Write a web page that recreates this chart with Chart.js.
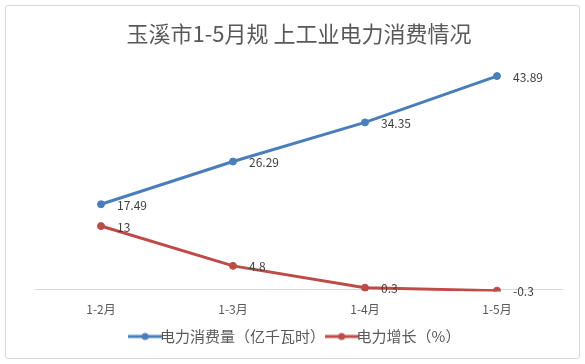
<!DOCTYPE html>
<html>
<head>
<meta charset="utf-8">
<script src="https://cdn.jsdelivr.net/npm/chart.js@4"></script>
<style>
body{margin:0;background:#fff;}
#box{position:absolute;left:5px;top:5px;width:573px;height:352px;border:1px solid #d9d9d9;border-radius:3px;}
#wrap{position:absolute;left:0;top:0;width:585px;height:364px;}
</style>
</head>
<body>
<div id="box"></div>
<div id="wrap"><canvas id="c" width="585" height="364"></canvas></div>
<script>
// data
const months = ["1-2月","1-3月","1-4月","1-5月"]
const consumption = [17.49, 26.29, 34.35, 43.89]
const growth = [13, 4.8, 0.3, -0.3]

const BLUE = "#4a7ebb"
const RED = "#be4b48"
const FONT = "'Noto Sans CJK SC', 'Noto Sans', sans-serif"

// little line + dot used in the legend
function legendIcon(color){
  let cv = document.createElement("canvas")
  cv.width = 34; cv.height = 10
  let g = cv.getContext("2d")
  g.strokeStyle = color; g.lineWidth = 3
  g.beginPath(); g.moveTo(0,5); g.lineTo(34,5); g.stroke()
  g.fillStyle = color
  g.beginPath(); g.arc(17,5,3.5,0,Math.PI*2); g.fill()
  return cv
}

// value labels to the right of each point
const pointLabels = {
  id: "pointLabels",
  afterDatasetsDraw(chart){
    let ctx = chart.ctx
    ctx.save()
    ctx.font = "12px " + FONT
    ctx.fillStyle = "#404040"
    ctx.textBaseline = "middle"
    chart.data.datasets.forEach((ds,i) => {
      chart.getDatasetMeta(i).data.forEach((pt,j) => {
        ctx.fillText(String(ds.data[j]), pt.x + 16, pt.y + 1)
      })
    })
    ctx.restore()
  }
}

new Chart(document.getElementById("c"),{
  type:"line",
  data:{
    labels: months,
    datasets:[{
      label:"电力消费量（亿千瓦时）",
      data: consumption,
      borderColor: BLUE,
      backgroundColor: BLUE,
      borderWidth: 3,
      pointRadius: 3.5,
      pointBorderWidth: 1,
      pointStyle: "circle"
    },{
      label:"电力增长（%）",
      data: growth,
      borderColor: RED,
      backgroundColor: RED,
      borderWidth: 3,
      pointRadius: 3.5,
      pointBorderWidth: 1,
      pointStyle: "circle"
    }]
  },
  options:{
    responsive:false,
    animation:false,
    layout:{padding:{left:35,right:22,top:0,bottom:10}},
    plugins:{
      title:{
        display:true,
        text:"玉溪市1-5月规 上工业电力消费情况",
        color:"#595959",
        font:{family:FONT,size:22,weight:"normal"},
        padding:{top:20,bottom:0}
      },
      legend:{
        position:"bottom",
        labels:{
          color:"#595959",
          font:{family:FONT,size:15},
          usePointStyle:true,
          padding:9,
          generateLabels(chart){
            return chart.data.datasets.map((ds,i) => ({
              text: ds.label,
              pointStyle: legendIcon(ds.borderColor),
              fontColor:"#595959",
              datasetIndex:i,
              lineWidth:0
            }))
          }
        }
      },
      tooltip:{enabled:false}
    },
    scales:{
      x:{
        offset:true,
        grid:{display:false},
        border:{display:false},
        ticks:{color:"#595959",font:{family:FONT,size:12},padding:3}
      },
      y:{
        min:-0.5,
        max:50,
        afterFit(s){ s.width = 0 },
        ticks:{display:false},
        border:{display:false},
        grid:{
          drawTicks:false,
          color:c => c.tick.value === 0 ? "#d9d9d9" : "rgba(0,0,0,0)"
        },
        afterBuildTicks(s){ s.ticks = [{value:0}] }
      }
    }
  },
  plugins:[pointLabels]
})
</script>
</body>
</html>
